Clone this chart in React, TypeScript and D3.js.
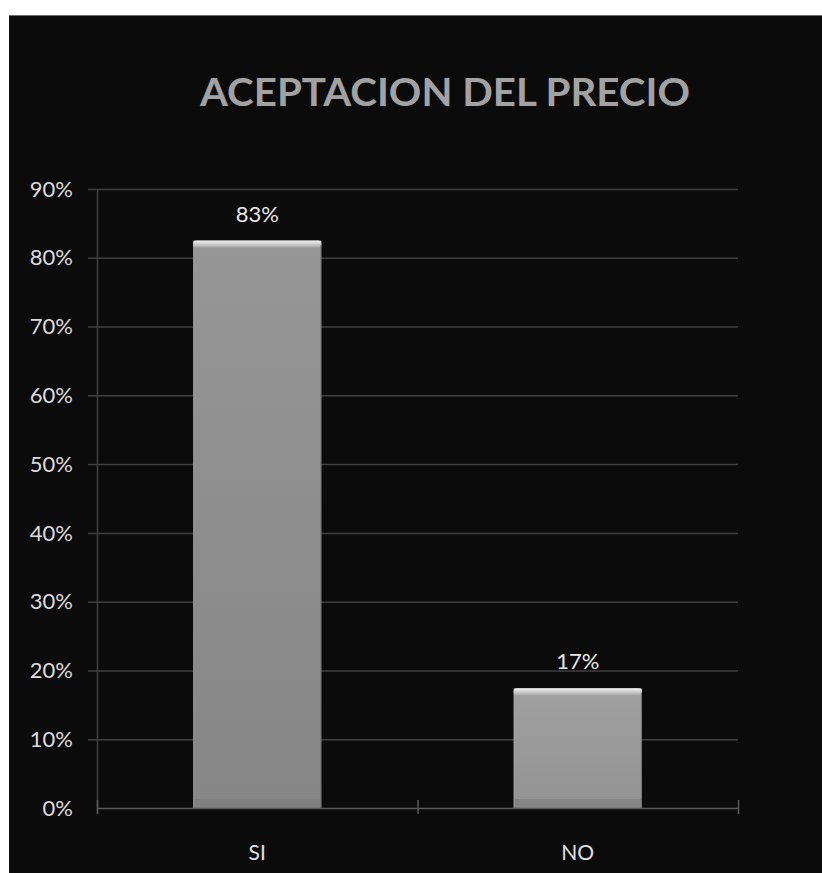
import React from 'react';
import * as d3 from 'd3';

const categories = ['SI', 'NO'];
const values = [0.825, 0.174];
const valueLabels = ['83%', '17%'];
const yTicks = [0, 0.1, 0.2, 0.3, 0.4, 0.5, 0.6, 0.7, 0.8, 0.9];
const title = 'ACEPTACION DEL PRECIO';

const W = 822;
const H = 873;
const plot = { left: 97, right: 738, top: 189, bottom: 808 };
const font = 'Lato, "Open Sans", sans-serif';

export default function App() {
  const x = d3.scaleBand<string>()
    .domain(categories)
    .range([plot.left, plot.right])
    .paddingInner(0.6)
    .paddingOuter(0.3);
  const y = d3.scaleLinear().domain([0, 0.9]).range([plot.bottom, plot.top]);
  const fmt = d3.format('.0%');
  const step = (plot.right - plot.left) / categories.length;

  return (
    <svg width={W} height={H} style={{ position: 'absolute', left: 0, top: 0 }}>
      <defs>
        <linearGradient id="barFill" x1="0" y1="0" x2="0" y2="1">
          <stop offset="0" stopColor="#969696" />
          <stop offset="1" stopColor="#868686" />
        </linearGradient>
        <linearGradient id="barFill2" x1="0" y1="0" x2="0" y2="1">
          <stop offset="0" stopColor="#a0a0a0" />
          <stop offset="1" stopColor="#939393" />
        </linearGradient>
        <linearGradient id="bevelTop" x1="0" y1="0" x2="0" y2="1">
          <stop offset="0" stopColor="#f2f2f2" />
          <stop offset="1" stopColor="#a8a8a8" />
        </linearGradient>
      </defs>
      <rect x={0} y={0} width={W} height={H} fill="#ffffff" />
      <rect x={9} y={15} width={W - 9} height={H - 15} fill="#0b0b0b" />
      <line x1={9} x2={W} y1={15.5} y2={15.5} stroke="#6a6a6a" strokeWidth={1} />

      <text
        x={445}
        y={106}
        textAnchor="middle"
        fontFamily={font}
        fontWeight={700}
        fontSize={38}
        fill="#a2a2a2"
        textLength={490}
        lengthAdjust="spacingAndGlyphs"
      >
        {title}
      </text>

      {yTicks.map((t) => (
        <g key={t}>
          {t > 0 && (
            <line
              x1={plot.left - 9}
              x2={plot.right}
              y1={y(t) + 0.5}
              y2={y(t) + 0.5}
              stroke="#404040"
              strokeWidth={1.5}
            />
          )}
          <text
            x={73}
            y={y(t)}
            dy="0.35em"
            textAnchor="end"
            fontFamily={font}
            fontSize={22}
            fill="#dcdcdc"
          >
            {fmt(t)}
          </text>
        </g>
      ))}

      {/* y axis */}
      <line x1={plot.left + 0.5} x2={plot.left + 0.5} y1={plot.top} y2={plot.bottom + 6} stroke="#404040" strokeWidth={1.5} />

      {categories.map((c, i) => {
        const bx = x(c) as number;
        const bw = x.bandwidth();
        const top = y(values[i]);
        const h = plot.bottom - top;
        return (
          <g key={c}>
            <rect x={bx} y={top} width={bw} height={h} fill={i === 0 ? 'url(#barFill)' : 'url(#barFill2)'} />
            <rect x={bx} y={top} width={bw} height={7} rx={3} fill="url(#bevelTop)" />
            <rect x={bx} y={plot.bottom - 9} width={bw} height={9} fill="#7c7c7c" opacity={0.6} />
            <line x1={bx + 0.5} x2={bx + 0.5} y1={top + 4} y2={plot.bottom} stroke="#b0b0b0" strokeOpacity={0.4} />
            <line x1={bx + bw - 0.5} x2={bx + bw - 0.5} y1={top + 4} y2={plot.bottom} stroke="#6a6a6a" strokeOpacity={0.6} />
            <text
              x={bx + bw / 2}
              y={top - 19}
              textAnchor="middle"
              fontFamily={font}
              fontSize={22}
              fill="#e8e8e8"
            >
              {valueLabels[i]}
            </text>
            <text
              x={bx + bw / 2}
              y={860}
              textAnchor="middle"
              fontFamily={font}
              fontSize={21}
              fill="#e0e0e0"
            >
              {c}
            </text>
          </g>
        );
      })}

      {/* x axis */}
      <line x1={plot.left} x2={plot.right} y1={plot.bottom + 0.5} y2={plot.bottom + 0.5} stroke="#5a5a5a" strokeWidth={1.5} />
      {[0, 1, 2].map((k) => (
        <line
          key={k}
          x1={plot.left + k * step + 0.5}
          x2={plot.left + k * step + 0.5}
          y1={plot.bottom - 8}
          y2={plot.bottom + 6}
          stroke="#5a5a5a"
          strokeWidth={1.5}
        />
      ))}
    </svg>
  );
}
